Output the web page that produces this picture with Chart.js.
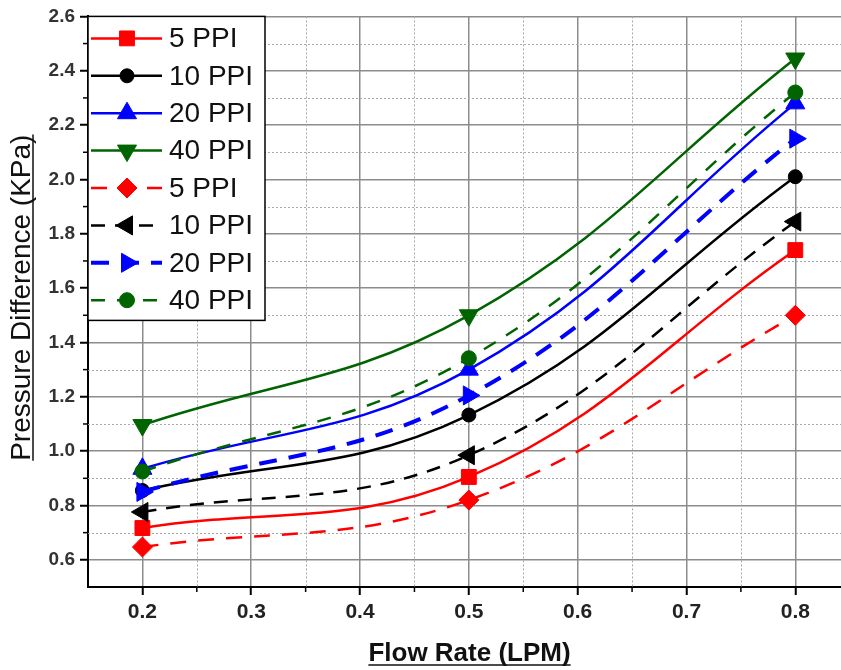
<!DOCTYPE html>
<html>
<head>
<meta charset="utf-8">
<script src="https://cdn.jsdelivr.net/npm/chart.js@4.4.1/dist/chart.umd.min.js"></script>
<style>
html, body { margin: 0; padding: 0; background: #fff; }
#wrap { width: 841px; height: 670px; }
</style>
</head>
<body>
<div id="wrap"><canvas id="out"></canvas></div>
<script>
// flow rate (LPM) and pressure difference (KPa)
const flowRate = [0.2, 0.5, 0.8];
const seriesNames = ["5 PPI", "10 PPI", "20 PPI", "40 PPI", "5 PPI", "10 PPI", "20 PPI", "40 PPI"];

const solid5 = [0.717, 0.905, 1.74];
const solid10 = [0.855, 1.133, 2.01];
const solid20 = [0.935, 1.30, 2.28];
const solid40 = [1.096, 1.50, 2.445];
const dash5 = [0.647, 0.82, 1.50];
const dash10 = [0.776, 0.985, 1.845];
const dash20 = [0.85, 1.205, 2.15];
const dash40 = [0.925, 1.342, 2.32];

const xTicks = [0.2, 0.3, 0.4, 0.5, 0.6, 0.7, 0.8];
const xMinor = [0.25, 0.35, 0.45, 0.55, 0.65, 0.75];
const yTicks = [0.6, 0.8, 1.0, 1.2, 1.4, 1.6, 1.8, 2.0, 2.2, 2.4, 2.6];
const yMinor = [0.7, 0.9, 1.1, 1.3, 1.5, 1.7, 1.9, 2.1, 2.3, 2.5];

const RED = "#ff0000", BLACK = "#000000", BLUE = "#0000ff", GREEN = "#006400";

function series(label, values, color, style, radius, rotation, dash, width) {
  return {
    label: label,
    data: flowRate.map((x, i) => ({ x: x, y: values[i] })),
    borderColor: color,
    backgroundColor: color,
    borderWidth: width,
    borderDash: dash,
    tension: 0.4,
    pointStyle: style,
    pointRadius: radius,
    pointHoverRadius: radius,
    pointRotation: rotation,
    pointBorderWidth: 1,
    pointBorderColor: color,
    pointBackgroundColor: color
  };
}

const datasets = [
  series(seriesNames[0], solid5, RED, "rect", 10.5, 0, [], 2.5),
  series(seriesNames[1], solid10, BLACK, "circle", 7, 0, [], 2.5),
  series(seriesNames[2], solid20, BLUE, "triangle", 11, 0, [], 2.5),
  series(seriesNames[3], solid40, GREEN, "triangle", 11, 180, [], 2.5),
  series(seriesNames[4], dash5, RED, "rectRot", 10, 0, [16, 12], 2.5),
  series(seriesNames[5], dash10, BLACK, "triangle", 11, 270, [14, 10], 2.5),
  series(seriesNames[6], dash20, BLUE, "triangle", 11, 90, [18, 12], 4),
  series(seriesNames[7], dash40, GREEN, "circle", 7.5, 0, [14, 12], 2.5)
];
// later series sit on top, like in the figure
datasets.forEach((d, i) => { d.order = datasets.length - i; });

// dotted minor grid + small minor ticks
const minorGrid = {
  id: "minorGrid",
  beforeDatasetsDraw(chart) {
    const { ctx, chartArea: a, scales } = chart;
    ctx.save();
    ctx.strokeStyle = "#a8a8a8";
    ctx.lineWidth = 1;
    ctx.setLineDash([2, 2]);
    xMinor.forEach(v => {
      const px = Math.round(scales.x.getPixelForValue(v)) + 0.5;
      ctx.beginPath(); ctx.moveTo(px, a.top); ctx.lineTo(px, a.bottom); ctx.stroke();
    });
    yMinor.forEach(v => {
      const py = Math.round(scales.y.getPixelForValue(v)) + 0.5;
      ctx.beginPath(); ctx.moveTo(a.left, py); ctx.lineTo(a.right, py); ctx.stroke();
    });
    ctx.setLineDash([]);
    ctx.strokeStyle = "#000";
    ctx.lineWidth = 1.5;
    xMinor.forEach(v => {
      const px = scales.x.getPixelForValue(v);
      ctx.beginPath(); ctx.moveTo(px, a.bottom); ctx.lineTo(px, a.bottom + 5); ctx.stroke();
    });
    yMinor.forEach(v => {
      const py = scales.y.getPixelForValue(v);
      ctx.beginPath(); ctx.moveTo(a.left, py); ctx.lineTo(a.left - 5, py); ctx.stroke();
    });
    ctx.restore();
  }
};

// boxed legend in the upper left corner of the plot
const boxLegend = {
  id: "boxLegend",
  afterDatasetsDraw(chart) {
    const { ctx, chartArea: a } = chart;
    const left = a.left, top = a.top, w = 177, h = 304, row = 37.4;
    ctx.save();
    ctx.fillStyle = "#fff";
    ctx.fillRect(left, top, w, h);
    ctx.strokeStyle = "#000";
    ctx.lineWidth = 1.5;
    ctx.strokeRect(left, top, w, h);
    chart.data.datasets.forEach((ds, i) => {
      const y = top + 22 + i * row;
      ctx.strokeStyle = ds.borderColor;
      ctx.lineWidth = ds.borderWidth;
      ctx.setLineDash(ds.borderDash);
      ctx.beginPath(); ctx.moveTo(left + 3, y); ctx.lineTo(left + 74, y); ctx.stroke();
      ctx.setLineDash([]);
      ctx.fillStyle = ds.backgroundColor;
      ctx.lineWidth = 1;
      Chart.helpers.drawPoint(ctx, {
        pointStyle: ds.pointStyle, radius: ds.pointRadius, rotation: ds.pointRotation, borderWidth: 1
      }, left + 39, y);
      ctx.fillStyle = "#111";
      ctx.font = "28px 'Liberation Sans', Arial, sans-serif";
      ctx.textAlign = "left";
      ctx.textBaseline = "middle";
      ctx.fillText(ds.label, left + 81, y + 1);
    });
    ctx.restore();
  }
};

// underlined axis titles
const axisTitles = {
  id: "axisTitles",
  afterDraw(chart) {
    const { ctx, chartArea: a } = chart;
    ctx.save();
    ctx.fillStyle = "#111";
    ctx.strokeStyle = "#111";
    ctx.lineWidth = 1.5;
    ctx.textAlign = "center";
    ctx.textBaseline = "alphabetic";

    ctx.font = "bold 26px 'Liberation Sans', Arial, sans-serif";
    const xt = "Flow Rate (LPM)";
    const xw = ctx.measureText(xt).width;
    const cx = (a.left + a.right) / 2 + 5;
    ctx.fillText(xt, cx, 661);
    ctx.beginPath(); ctx.moveTo(cx - xw / 2, 665); ctx.lineTo(cx + xw / 2, 665); ctx.stroke();

    ctx.translate(30, (a.top + a.bottom) / 2 - 4);
    ctx.rotate(-Math.PI / 2);
    ctx.font = "28px 'Liberation Sans', Arial, sans-serif";
    const yt = "Pressure Difference (KPa)";
    const yw = ctx.measureText(yt).width;
    ctx.fillText(yt, 0, 0);
    ctx.beginPath(); ctx.moveTo(-yw / 2, 3); ctx.lineTo(yw / 2, 3); ctx.stroke();
    ctx.restore();
  }
};

const canvasCtx = document.getElementById("out").getContext("2d");

new Chart(canvasCtx, {
  type: "line",
  data: { datasets: datasets },
  options: {
    responsive: true,
    maintainAspectRatio: false,
    devicePixelRatio: 1,
    animation: false,
    layout: { autoPadding: false, padding: { top: 16, right: 0, left: 0, bottom: 0 } },
    plugins: { legend: { display: false }, tooltip: { enabled: false } },
    scales: {
      x: {
        type: "linear",
        min: 0.15,
        max: 0.842,
        afterBuildTicks: s => { s.ticks = xTicks.map(v => ({ value: v })); },
        afterFit: s => { s.height = 83; s.paddingLeft = 0; s.paddingRight = 0; },
        ticks: {
          autoSkip: false,
          maxRotation: 0,
          padding: 5,
          color: "#222",
          font: { family: "'Liberation Sans Narrow', 'Liberation Sans', Arial, sans-serif", size: 21, weight: "bold" },
          callback: v => Number(v).toFixed(1)
        },
        grid: { color: "#8c8c8c", lineWidth: 1.5, tickColor: "#000", tickLength: 8, tickWidth: 2 },
        border: { color: "#000", width: 2 }
      },
      y: {
        min: 0.5,
        max: 2.6,
        afterBuildTicks: s => { s.ticks = yTicks.map(v => ({ value: v })); },
        afterFit: s => { s.width = 88; },
        ticks: {
          autoSkip: false,
          padding: 5,
          color: "#333",
          font: { family: "'Liberation Sans', Arial, sans-serif", size: 19, weight: "bold" },
          callback: v => Number(v).toFixed(1)
        },
        grid: { color: "#8c8c8c", lineWidth: 1.5, tickColor: "#000", tickLength: 8, tickWidth: 2 },
        border: { color: "#000", width: 2 }
      }
    }
  },
  plugins: [minorGrid, boxLegend, axisTitles]
});
</script>
</body>
</html>
